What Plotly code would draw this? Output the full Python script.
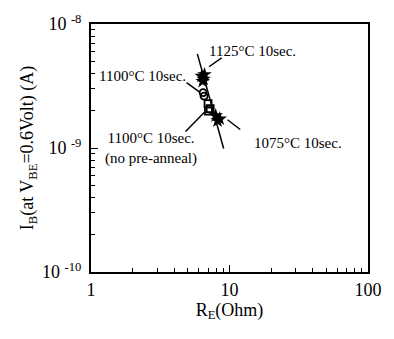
import plotly.graph_objects as go

# Data (R_E in Ohm, I_B in A)
r_1125 = [6.3, 6.5, 6.6, 6.4]
i_1125 = [3.8e-9, 3.6e-9, 3.9e-9, 3.45e-9]
r_1100 = [6.45, 6.55]
i_1100 = [2.8e-9, 2.62e-9]
r_1100np = [7.0, 7.25, 7.05]
i_1100np = [2.28e-9, 2.08e-9, 1.98e-9]
r_1075 = [7.95, 8.5, 8.2]
i_1075 = [1.82e-9, 1.72e-9, 1.66e-9]
fit_r = [5.86, 9.07]
fit_i = [5.74e-9, 0.99e-9]

labels = ["1125°C 10sec.", "1100°C 10sec.", "1100°C 10sec.<br>(no pre-anneal)", "1075°C 10sec."]
x_ticks = [1, 10, 100]
x_ticktext = ["1", "10", "100"]
y_ticks = [1e-10, 1e-9, 1e-8]
y_ticktext = ["10 <sup>-10</sup>", "10 <sup>-9</sup>", "10 <sup>-8</sup>"]

SERIF = "Liberation Serif, Times New Roman, serif"

fig = go.Figure()
fig.add_trace(go.Scatter(x=fit_r, y=fit_i, mode="lines",
                         line=dict(color="black", width=1.5), showlegend=False))
fig.add_trace(go.Scatter(x=r_1125, y=i_1125, mode="markers",
                         marker=dict(symbol="star", size=11, color="black"), showlegend=False))
fig.add_trace(go.Scatter(x=r_1100, y=i_1100, mode="markers",
                         marker=dict(symbol="circle-open", size=7, color="black",
                                     line=dict(width=1.8)), showlegend=False))
fig.add_trace(go.Scatter(x=r_1100np, y=i_1100np, mode="markers",
                         marker=dict(symbol="square-open", size=7, color="black",
                                     line=dict(width=1.8)), showlegend=False))
fig.add_trace(go.Scatter(x=r_1075, y=i_1075, mode="markers",
                         marker=dict(symbol="star", size=11, color="black"), showlegend=False))

# leader lines (data coords)
leaders = [
    ([7.11, 8.78], [4.52e-9, 5.34e-9]),
    ([4.90, 6.05], [3.36e-9, 2.84e-9]),
    ([4.82, 6.56], [1.36e-9, 1.93e-9]),
    ([9.68, 11.95], [1.69e-9, 1.41e-9]),
]
for lx, ly in leaders:
    fig.add_trace(go.Scatter(x=lx, y=ly, mode="lines",
                             line=dict(color="black", width=1.5), showlegend=False))

# label annotations (log10 data coords)
ann_pos = [
    (0.838, -8.217, "left"),
    (0.042, -8.418, "left"),
    (0.43, -9.008, "center"),
    (1.162, -8.956, "left"),
]
for (ax_, ay_, anchor), txt in zip(ann_pos, labels):
    fig.add_annotation(x=ax_, y=ay_, xref="x", yref="y", text=txt, showarrow=False,
                       xanchor=anchor, yanchor="middle",
                       font=dict(family=SERIF, size=15, color="black"))

minor_x = [m * 10 ** k for k in (0, 1) for m in range(2, 10)]
minor_y = [m * 10.0 ** k for k in (-10, -9) for m in range(2, 10)]

axis_common = dict(
    type="log", showgrid=False, zeroline=False,
    showline=True, linecolor="black", linewidth=2, mirror=True,
    ticks="inside", ticklen=7, tickwidth=1.2, tickcolor="black",
    tickfont=dict(family=SERIF, size=18, color="black"),
)

fig.update_xaxes(**axis_common, range=[0, 2], tickmode="array", tickvals=x_ticks, ticktext=x_ticktext,
                 minor=dict(ticks="inside", ticklen=4, tickwidth=1, tickcolor="black",
                            tickmode="array", tickvals=minor_x),
                 ticklabelstandoff=0,
                 title=dict(text="R<sub>E</sub>(Ohm)", font=dict(family=SERIF, size=18, color="black"),
                            standoff=0))
fig.update_yaxes(**axis_common, range=[-10, -8], tickmode="array", tickvals=y_ticks,
                 ticktext=y_ticktext,
                 minor=dict(ticks="inside", ticklen=4, tickwidth=1, tickcolor="black",
                            tickmode="array", tickvals=minor_y),
                 ticklabelstandoff=4,
                 title=dict(text="I<sub>B</sub>(at V<sub>BE</sub>=0.6Volt) (A)",
                            font=dict(family=SERIF, size=18, color="black"), standoff=4))

fig.update_layout(
    width=394, height=339,
    margin=dict(l=91, r=19, t=23, b=67),
    paper_bgcolor="white", plot_bgcolor="white",
    showlegend=False,
)

fig.write_html("out.html")
